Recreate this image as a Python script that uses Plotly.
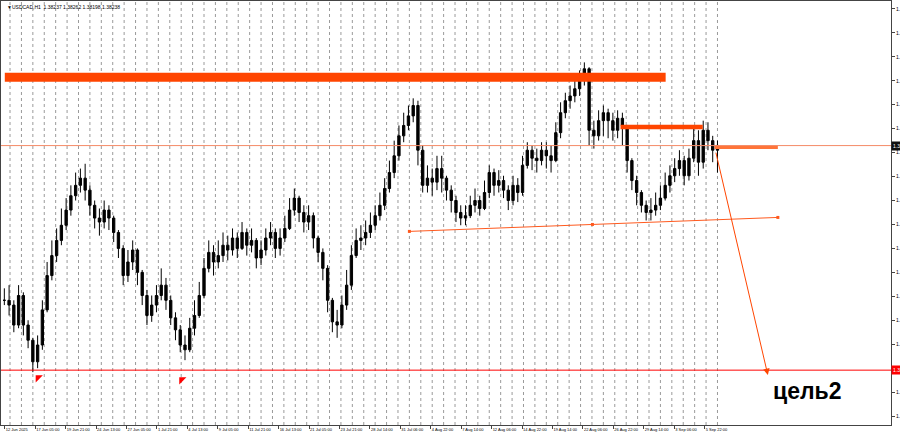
import plotly.graph_objects as go

# ---- data (USDCAD, candles of 10 H1 bars) ----
close = [1.3630, 1.3624, 1.3599, 1.3636, 1.3599, 1.3580, 1.3553, 1.3574, 1.3618, 1.3661,
         1.3686, 1.3705, 1.3724, 1.3743, 1.3761, 1.3774, 1.3783, 1.3768, 1.3749, 1.3733,
         1.3728, 1.3743, 1.3733, 1.3715, 1.3695, 1.3661, 1.3678, 1.3693, 1.3665, 1.3636,
         1.3611, 1.3624, 1.3636, 1.3649, 1.3630, 1.3608, 1.3593, 1.3574, 1.3568, 1.3595,
         1.3611, 1.3636, 1.3670, 1.3690, 1.3678, 1.3686, 1.3699, 1.3693, 1.3708, 1.3695,
         1.3715, 1.3699, 1.3705, 1.3683, 1.3693, 1.3708, 1.3715, 1.3695, 1.3708, 1.3720,
         1.3743, 1.3758, 1.3740, 1.3728, 1.3736, 1.3708, 1.3690, 1.3670, 1.3630, 1.3603,
         1.3599, 1.3624, 1.3649, 1.3686, 1.3705, 1.3708, 1.3715, 1.3724, 1.3736, 1.3749,
         1.3770, 1.3790, 1.3811, 1.3836, 1.3849, 1.3861, 1.3874, 1.3818, 1.3774, 1.3783,
         1.3778, 1.3795, 1.3783, 1.3768, 1.3755, 1.3740, 1.3733, 1.3736, 1.3749, 1.3755,
         1.3745, 1.3765, 1.3790, 1.3774, 1.3780, 1.3768, 1.3755, 1.3774, 1.3765, 1.3799,
         1.3818, 1.3808, 1.3805, 1.3818, 1.3811, 1.3805, 1.3840, 1.3865, 1.3880, 1.3886,
         1.3895, 1.3908, 1.3920, 1.3843, 1.3836, 1.3855, 1.3865, 1.3855, 1.3843, 1.3858,
         1.3849, 1.3805, 1.3780, 1.3765, 1.3749, 1.3740, 1.3743, 1.3749, 1.3758, 1.3774,
         1.3786, 1.3795, 1.3805, 1.3786, 1.3808, 1.3830, 1.3803, 1.3843, 1.3830, 1.3818,
         1.3824]
high = [1.3645, 1.3649, 1.3630, 1.3649, 1.3640, 1.3605, 1.3583, 1.3586, 1.3630, 1.3678,
        1.3705, 1.3720, 1.3745, 1.3758, 1.3774, 1.3790, 1.3795, 1.3801, 1.3774, 1.3755,
        1.3745, 1.3755, 1.3749, 1.3736, 1.3718, 1.3699, 1.3693, 1.3705, 1.3695, 1.3668,
        1.3643, 1.3636, 1.3649, 1.3670, 1.3658, 1.3636, 1.3615, 1.3599, 1.3586, 1.3608,
        1.3630, 1.3653, 1.3683, 1.3705, 1.3699, 1.3705, 1.3715, 1.3711, 1.3720, 1.3715,
        1.3728, 1.3720, 1.3720, 1.3708, 1.3705, 1.3720, 1.3728, 1.3720, 1.3720, 1.3736,
        1.3758, 1.3770, 1.3761, 1.3749, 1.3749, 1.3740, 1.3711, 1.3695, 1.3674, 1.3633,
        1.3618, 1.3636, 1.3668, 1.3699, 1.3720, 1.3724, 1.3730, 1.3740, 1.3749, 1.3765,
        1.3783, 1.3805, 1.3830, 1.3849, 1.3865, 1.3874, 1.3883, 1.3880, 1.3824, 1.3799,
        1.3795, 1.3811, 1.3811, 1.3786, 1.3774, 1.3761, 1.3749, 1.3749, 1.3761, 1.3770,
        1.3761, 1.3780, 1.3799, 1.3795, 1.3793, 1.3786, 1.3774, 1.3786, 1.3783, 1.3811,
        1.3828, 1.3824, 1.3820, 1.3828, 1.3828, 1.3824, 1.3853, 1.3878, 1.3890, 1.3899,
        1.3908, 1.3918, 1.3928, 1.3922, 1.3855, 1.3868, 1.3874, 1.3870, 1.3865, 1.3868,
        1.3865, 1.3849, 1.3808, 1.3786, 1.3768, 1.3755, 1.3758, 1.3765, 1.3774, 1.3790,
        1.3799, 1.3808, 1.3818, 1.3811, 1.3820, 1.3849, 1.3843, 1.3855, 1.3853, 1.3836,
        1.3830]
low = [1.3624, 1.3611, 1.3590, 1.3595, 1.3586, 1.3570, 1.3540, 1.3545, 1.3568, 1.3615,
       1.3655, 1.3678, 1.3699, 1.3718, 1.3736, 1.3755, 1.3765, 1.3755, 1.3736, 1.3720,
       1.3711, 1.3720, 1.3718, 1.3703, 1.3683, 1.3649, 1.3653, 1.3668, 1.3649, 1.3624,
       1.3599, 1.3603, 1.3615, 1.3630, 1.3618, 1.3599, 1.3580, 1.3565, 1.3555, 1.3565,
       1.3586, 1.3608, 1.3633, 1.3665, 1.3661, 1.3670, 1.3678, 1.3680, 1.3686, 1.3683,
       1.3693, 1.3686, 1.3690, 1.3670, 1.3674, 1.3686, 1.3699, 1.3683, 1.3686, 1.3703,
       1.3718, 1.3736, 1.3728, 1.3715, 1.3718, 1.3695, 1.3678, 1.3655, 1.3615, 1.3590,
       1.3583, 1.3595, 1.3618, 1.3643, 1.3683, 1.3693, 1.3699, 1.3708, 1.3718, 1.3730,
       1.3743, 1.3765, 1.3783, 1.3805, 1.3828, 1.3843, 1.3853, 1.3799, 1.3765, 1.3765,
       1.3761, 1.3768, 1.3765, 1.3755, 1.3740, 1.3728, 1.3724, 1.3724, 1.3733, 1.3740,
       1.3736, 1.3743, 1.3758, 1.3761, 1.3765, 1.3758, 1.3743, 1.3749, 1.3753, 1.3761,
       1.3795, 1.3793, 1.3790, 1.3799, 1.3795, 1.3790, 1.3803, 1.3833, 1.3858, 1.3870,
       1.3878, 1.3886, 1.3899, 1.3824, 1.3820, 1.3830, 1.3836, 1.3833, 1.3830, 1.3833,
       1.3824, 1.3790, 1.3768, 1.3749, 1.3740, 1.3730, 1.3730, 1.3736, 1.3743, 1.3755,
       1.3765, 1.3778, 1.3786, 1.3774, 1.3780, 1.3803, 1.3786, 1.3795, 1.3818, 1.3803,
       1.3790]
open_ = [close[0]] + close[:-1]

BARS_PER_CANDLE = 10
bar_index = [i * BARS_PER_CANDLE + BARS_PER_CANDLE / 2 for i in range(len(close))]

time_labels = ["12 Jun 2025", "17 Jun 05:00", "19 Jun 21:00", "24 Jun 13:00", "27 Jun 05:00",
               "1 Jul 21:00", "4 Jul 13:00", "9 Jul 05:00", "11 Jul 21:00", "16 Jul 13:00",
               "21 Jul 05:00", "23 Jul 21:00", "28 Jul 14:00", "31 Jul 06:00", "4 Aug 22:00",
               "7 Aug 14:00", "12 Aug 06:00", "14 Aug 22:00", "19 Aug 14:00", "22 Aug 06:00",
               "26 Aug 22:00", "29 Aug 14:00", "3 Sep 06:00", "5 Sep 22:00"]
time_label_bars = [6 + 64 * k for k in range(len(time_labels))]
day_start_bars = [17 + 24 * k for k in range(63)]

price_ticks = [round(1.3485 + 0.003 * k, 4) for k in range(18)]

# drawn objects (price levels / bar anchors)
zone_top = (6, 1396, 1.39038, 1.39150)
zone_mid = (1301, 1474, 1.38444, 1.38500)
zone_right = (1499, 1632, 1.38195, 1.38238)
bid_price = 1.38238
target_level = 1.35425
trend = ((857, 1.37163), (1242, 1.37250), (1632, 1.37338))
arrow_from = (1501, 1.38168)
arrow_to = (1611, 1.35363)
marks = [(76, 1.35330), (378, 1.35305)]
target_text = (1618, 1.35160, "цель2")

X_RANGE = [-2, 1870]
Y_RANGE = [1.34738, 1.40049]

fig = go.Figure()

fig.add_trace(go.Candlestick(
    x=bar_index, open=open_, high=high, low=low, close=close,
    increasing=dict(line=dict(color="black", width=1), fillcolor="black"),
    decreasing=dict(line=dict(color="black", width=1), fillcolor="black"),
    whiskerwidth=0, hoverinfo="skip", showlegend=False))

shapes = []
for b in day_start_bars:
    shapes.append(dict(type="line", xref="x", yref="paper", x0=b, x1=b, y0=0, y1=1,
                       line=dict(color="#9a9a9a", width=1, dash="dot"), layer="below"))

for (x0, x1, y0, y1), col in [(zone_top, "#FF4500"), (zone_mid, "#FF4500"), (zone_right, "#FF7438")]:
    shapes.append(dict(type="rect", xref="x", yref="y", x0=x0, x1=x1, y0=y0, y1=y1,
                       fillcolor=col, line=dict(width=0)))

shapes.append(dict(type="line", xref="paper", yref="y", x0=0, x1=1, y0=bid_price, y1=bid_price,
                   line=dict(color="#F58A66", width=1)))
shapes.append(dict(type="line", xref="paper", yref="y", x0=0, x1=1, y0=target_level, y1=target_level,
                   line=dict(color="#FF0000", width=1)))
shapes.append(dict(type="line", xref="x", yref="y", x0=trend[0][0], y0=trend[0][1],
                   x1=trend[2][0], y1=trend[2][1], line=dict(color="#FF5A1F", width=1)))

fig.add_trace(go.Scatter(x=[p[0] for p in trend], y=[p[1] for p in trend], mode="markers",
                         marker=dict(symbol="square", size=3, color="#FF5A1F"),
                         hoverinfo="skip", showlegend=False))
fig.add_trace(go.Scatter(x=[m[0] for m in marks], y=[m[1] for m in marks], mode="markers",
                         marker=dict(symbol="triangle-nw", size=8, color="#FF0000"),
                         hoverinfo="skip", showlegend=False))

small = dict(family="Liberation Sans, Arial", size=4, color="black")
ysmall = dict(family="Liberation Sans, Arial", size=5, color="black")
annotations = [
    dict(x=arrow_to[0], y=arrow_to[1], ax=arrow_from[0], ay=arrow_from[1], xref="x", yref="y",
         axref="x", ayref="y", showarrow=True, arrowhead=2, arrowsize=1.3, arrowwidth=1,
         arrowcolor="#FF4500", text=""),
    dict(x=target_text[0], y=target_text[1], xref="x", yref="y", text="<b>%s</b>" % target_text[2],
         showarrow=False, xanchor="left", yanchor="middle",
         font=dict(family="Liberation Sans, Arial", size=23, color="black")),
    dict(x=0.004, y=0.998, xref="paper", yref="paper", xanchor="left", yanchor="top",
         text="▼USDCAD,H1  1.38237 1.38262 1.38198 1.38238", showarrow=False,
         font=dict(family="Liberation Sans, Arial", size=5, color="black")),
    dict(x=1, y=bid_price, xref="paper", yref="y", xanchor="left", yanchor="middle",
         text="1.38238", showarrow=False, bgcolor="#101010", borderpad=1,
         font=dict(family="Liberation Sans, Arial", size=5, color="white")),
    dict(x=1, y=target_level, xref="paper", yref="y", xanchor="left", yanchor="middle",
         text="1.35425", showarrow=False, bgcolor="#FF0000", borderpad=1,
         font=dict(family="Liberation Sans, Arial", size=5, color="white")),
]

fig.update_layout(
    width=900, height=438,
    margin=dict(l=1, r=9, t=1, b=13, autoexpand=False),
    paper_bgcolor="white", plot_bgcolor="white",
    shapes=shapes, annotations=annotations, showlegend=False,
    xaxis=dict(range=X_RANGE, rangeslider=dict(visible=False), showgrid=False, zeroline=False,
               showline=True, linecolor="#444", linewidth=1, mirror=True, automargin=False,
               ticks="outside", ticklen=3, tickcolor="#444", tickangle=0,
               tickvals=time_label_bars, ticktext=time_labels, ticklabelposition="outside right",
               tickfont=small),
    yaxis=dict(range=Y_RANGE, side="right", showgrid=False, zeroline=False,
               showline=True, linecolor="#444", linewidth=1, mirror=True, automargin=False,
               ticks="outside", ticklen=3, tickcolor="#444",
               tickvals=price_ticks, tickformat=".5f", tickfont=ysmall),
)

fig.write_html("out.html", config={"displayModeBar": False},
               post_script="document.body.style.margin='0';document.body.style.overflow='hidden';")
